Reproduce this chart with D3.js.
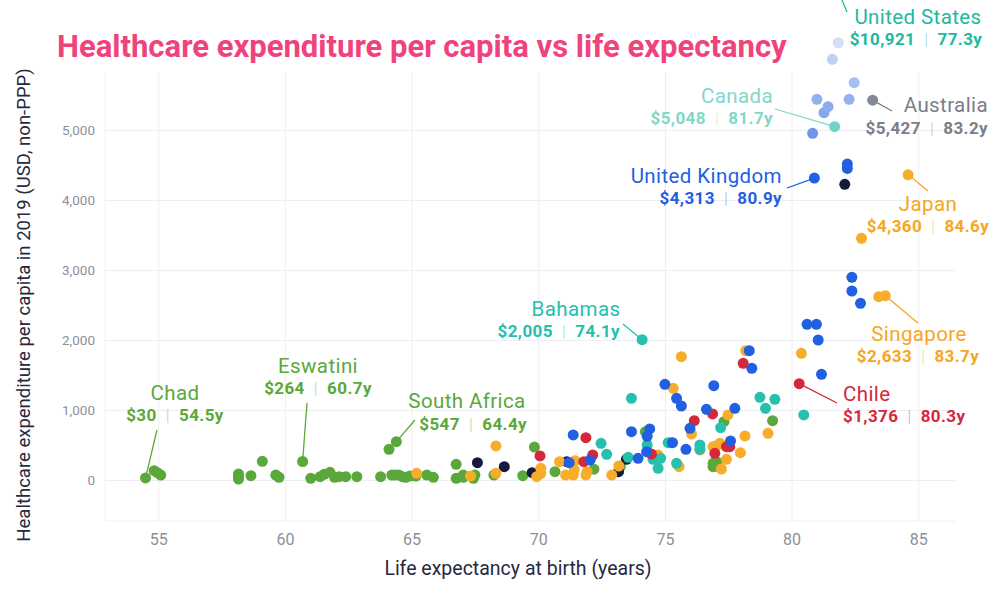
<!DOCTYPE html>
<html>
<head>
<meta charset="utf-8">
<script src="https://cdn.jsdelivr.net/npm/d3@7"></script>
<style>
  body { margin: 0; background: #fff; }
  svg { font-family: "Roboto", "Noto Sans", sans-serif; }
</style>
</head>
<body>
<div id="chart-container"></div>
<script>
// [life expectancy (years), spend per capita (USD)] per region
const africa = [[54.5,30],[54.84,133],[54.97,104],[55.1,71],[58.17,86],[58.17,47],[58.17,14],[58.66,61],
  [59.11,267],[59.64,71],[59.77,38],[60.7,264],[61.02,24],[61.39,47],[61.55,81],[61.78,110],[61.96,38],
  [62.14,47],[62.4,47],[62.84,47],[63.78,47],[64.11,438],[64.4,547],[64.22,71],[64.35,71],[64.5,71],
  [64.64,47],[64.77,38],[64.94,57],[65.17,57],[65.6,71],[65.86,38],[66.76,224],[66.76,24],[67.04,71],
  [67.04,38],[67.44,24],[67.5,71],[68.25,71],[69.39,61],[69.85,470],[70.66,119],[72.2,155],[73.24,190],
  [74.23,690],[77.33,833],[76.9,238],[77.04,262],[76.9,190],[77.1,190],[79.25,848]];
const asia = [[65.2,95],[67.33,57],[68.33,486],[68.33,95],[70.1,167],[69.94,47],[70.1,95],[70.84,262],
  [71.45,276],[71.08,71],[71.38,71],[71.42,143],[71.88,71],[71.93,119],[72.9,71],[73.18,200],[74.73,357],
  [75.56,190],[75.33,1310],[75.65,1762],[78.19,1847],[76.05,657],[77.49,929],[78.16,629],[79.07,667],
  [76.38,429],[76.9,476],[77.04,490],[77.17,524],[77.43,295],[77.98,390],[77.23,157],[80.39,1810],
  [82.76,3452],[83.44,2619],[83.7,2633],[84.6,4360]];
const americas = [[74.1,2005],[73.68,1167],[72.48,524],[72.7,367],[73.55,324],[74.3,500],[74.53,295],
  [74.83,310],[74.73,167],[75.13,533],[75.22,533],[75.46,238],[76.38,500],[76.38,438],[77.2,748],
  [78.75,1181],[79.34,1153],[78.97,1024],[80.48,929],[77.3,10921]];
const canada = [[81.7,5048]];
const europe = [[71.38,643],[71.22,248],[72.05,286],[73.68,690],[73.94,310],[74.4,729],[74.3,624],
  [74.28,405],[75.3,533],[75.83,438],[75.99,738],[75.0,1367],[75.46,1167],[75.65,1057],[76.64,1010],
  [76.93,1348],[77.76,1024],[77.59,557],[78.33,1847],[78.43,1595],[80.61,2224],[80.98,2224],[81.05,2000],
  [81.18,1510],[82.38,2896],[82.38,2700],[82.72,2524],[80.9,4313],[82.2,4514],[82.2,4452]];
const westEurope = [[80.83,4953],[81.28,5247],[81.44,5333],[81.0,5438],[82.27,5438],[82.47,5676],
  [81.61,6010],[81.84,6247]];
const latinAmerica = [[70.07,343],[71.88,605],[72.15,357],[71.8,262],[74.47,371],[76.16,848],[76.88,943],
  [77.43,476],[77.56,476],[76.97,381],[78.09,1667],[80.3,1376]];
const middleEast = [[67.6,248],[68.66,190],[69.76,104],[71.13,262],[73.17,119],[73.48,295],[82.1,4224]];
const oceania = [[83.2,5427]];

// highlighted countries
const labelNames = ["United States","Canada","Australia","United Kingdom","Japan","Singapore","Chile","Bahamas","South Africa","Eswatini","Chad"];
const labelSpend = [10921, 5048, 5427, 4313, 4360, 2633, 1376, 2005, 547, 264, 30];
const labelLife = [77.3, 81.7, 83.2, 80.9, 84.6, 83.7, 80.3, 74.1, 64.4, 60.7, 54.5];

const xTicks = [55, 60, 65, 70, 75, 80, 85];
const yTicks = [0, 1000, 2000, 3000, 4000, 5000];

// colours and label placement
const colors = {
  africa: "#5aa83a", asia: "#f7ad2b", americas: "#26c0ad", canada: "#6fd4c3", europe: "#2160e0",
  latinAmerica: "#d7283b", middleEast: "#161b3d", oceania: "#858895"
};
const westScale = d3.scaleLinear().domain([4900, 6300]).range(["#6a92e6", "#d6e2f8"]);
const labelLayout = {
  "United States":  { color: "#22b89f", nx: 918, ny: 24,  na: "middle", vx: 916, vy: 45,  va: "middle", cx: 847, cy: 12 },
  "Canada":         { color: "#7fd8c9", nx: 773, ny: 103, na: "end",    vx: 773, vy: 124, va: "end",    cx: 775, cy: 109 },
  "Australia":      { color: "#7a7d8c", nx: 988, ny: 112, na: "end",    vx: 988, vy: 134, va: "end",    cx: 892, cy: 111 },
  "United Kingdom": { color: "#1f5fe0", nx: 782, ny: 183, na: "end",    vx: 782, vy: 204, va: "end",    cx: 787, cy: 188 },
  "Japan":          { color: "#f5a623", nx: 928, ny: 211, na: "middle", vx: 928, vy: 232, va: "middle", cx: 928, cy: 191 },
  "Singapore":      { color: "#f5a623", nx: 919, ny: 341, na: "middle", vx: 918, vy: 362, va: "middle", cx: 918, cy: 323 },
  "Chile":          { color: "#d62839", nx: 843, ny: 401, na: "start",  vx: 843, vy: 422, va: "start",  cx: 837, cy: 403 },
  "Bahamas":        { color: "#22c0ad", nx: 576, ny: 316, na: "middle", vx: 620, vy: 337, va: "end",    cx: 623, cy: 324 },
  "South Africa":   { color: "#5aa83a", nx: 467, ny: 408, na: "middle", vx: 527, vy: 430, va: "end",    cx: 415, cy: 420 },
  "Eswatini":       { color: "#5aa83a", nx: 318, ny: 373, na: "middle", vx: 318, vy: 394, va: "middle", cx: 307, cy: 403 },
  "Chad":           { color: "#5aa83a", nx: 175, ny: 400, na: "middle", vx: 175, vy: 421, va: "middle", cx: 157, cy: 430 }
};

const width = 1000, height = 600;
const margin = { top: 72, right: 45, bottom: 79, left: 105 };
const innerH = height - margin.top - margin.bottom;

const svg = d3.select("#chart-container")
  .append("svg")
  .attr("width", width)
  .attr("height", height);

const x = d3.scaleLinear().domain([52.9, 86.45]).range([margin.left, width - margin.right]);
const y = d3.scaleLinear().domain([-586, 5829]).range([height - margin.bottom, margin.top]);

// grid + axes
const xAxis = svg.append("g")
  .attr("transform", `translate(0,${height - margin.bottom})`)
  .call(d3.axisBottom(x).tickValues(xTicks).tickSize(-innerH).tickPadding(13).tickFormat(d3.format("d")));
const yAxis = svg.append("g")
  .attr("transform", `translate(${margin.left},0)`)
  .call(d3.axisLeft(y).tickValues(yTicks).tickSize(-(width - margin.left - margin.right)).tickPadding(10).tickFormat(d3.format(",")));

[xAxis, yAxis].forEach(g => {
  g.select(".domain").remove();
  g.selectAll(".tick line").attr("stroke", "#eeeef2").attr("stroke-width", 1);
  g.selectAll(".tick text").attr("fill", "#8c8f99").style("font-family", "Roboto");
});
xAxis.selectAll(".tick text").style("font-size", "16px");
yAxis.selectAll(".tick text").style("font-size", "13.5px");

// plot frame (left and bottom)
svg.append("path")
  .attr("d", `M${margin.left},${margin.top}V${height - margin.bottom}H${width - margin.right}`)
  .attr("fill", "none")
  .attr("stroke", "#f1f1f4");

// axis titles
svg.append("text")
  .attr("x", 518).attr("y", 575)
  .attr("text-anchor", "middle")
  .style("font-size", "19.5px")
  .style("fill", "#262940")
  .text("Life expectancy at birth (years)");

svg.append("text")
  .attr("transform", `translate(30,${305}) rotate(-90)`)
  .attr("text-anchor", "middle")
  .style("font-size", "18.5px")
  .style("fill", "#262940")
  .text("Healthcare expenditure per capita in 2019 (USD, non-PPP)");

// title
const title = svg.append("text")
  .attr("x", 57).attr("y", 57)
  .style("font-size", "29px")
  .style("font-weight", "700")
  .style("fill", "#f0427c")
  .text("Healthcare expenditure per capita vs life expectancy");
const tw = title.node().getComputedTextLength();
title.style("font-size", (29 * 730 / tw).toFixed(2) + "px");

// connectors
const labels = labelNames.map((name, i) => ({ name, spend: labelSpend[i], life: labelLife[i], ...labelLayout[name] }));

svg.append("g").selectAll("line")
  .data(labels)
  .enter()
  .append("line")
  .attr("x1", d => d.cx).attr("y1", d => d.cy)
  .attr("x2", d => x(d.life)).attr("y2", d => y(d.spend))
  .attr("stroke", d => d.color)
  .attr("stroke-width", 1.3);

// dots
const groups = [
  { key: "africa", pts: africa },
  { key: "middleEast", pts: middleEast },
  { key: "asia", pts: asia },
  { key: "americas", pts: americas },
  { key: "latinAmerica", pts: latinAmerica },
  { key: "europe", pts: europe },
  { key: "westEurope", pts: westEurope },
  { key: "canada", pts: canada },
  { key: "oceania", pts: oceania }
];

const dots = groups.flatMap(g => g.pts.map(p => ({ key: g.key, life: p[0], spend: p[1] })));
svg.append("g").selectAll("circle")
  .data(dots)
  .enter()
  .append("circle")
  .attr("cx", d => x(d.life))
  .attr("cy", d => y(d.spend))
  .attr("r", 5.5)
  .attr("fill", d => d.key === "westEurope" ? westScale(d.spend) : colors[d.key]);

// label texts
const fmt = d3.format(",");
const lab = svg.append("g").selectAll("g")
  .data(labels)
  .enter()
  .append("g");

lab.append("text")
  .attr("x", d => d.nx).attr("y", d => d.ny)
  .attr("text-anchor", d => d.na)
  .style("font-size", "20.5px")
  .style("letter-spacing", "0.4px")
  .style("fill", d => d.color)
  .text(d => d.name);

const vals = lab.append("text")
  .attr("x", d => d.vx).attr("y", d => d.vy)
  .attr("text-anchor", d => d.va)
  .style("font-size", "17px")
  .style("font-weight", "700")
  .style("letter-spacing", "0.4px")
  .style("fill", d => d.color);
vals.append("tspan").text(d => "$" + fmt(d.spend));
vals.append("tspan").style("font-weight", "300").style("opacity", 0.45).attr("xml:space", "preserve").text("  |  ");
vals.append("tspan").text(d => d.life.toFixed(1) + "y");
</script>
</body>
</html>
